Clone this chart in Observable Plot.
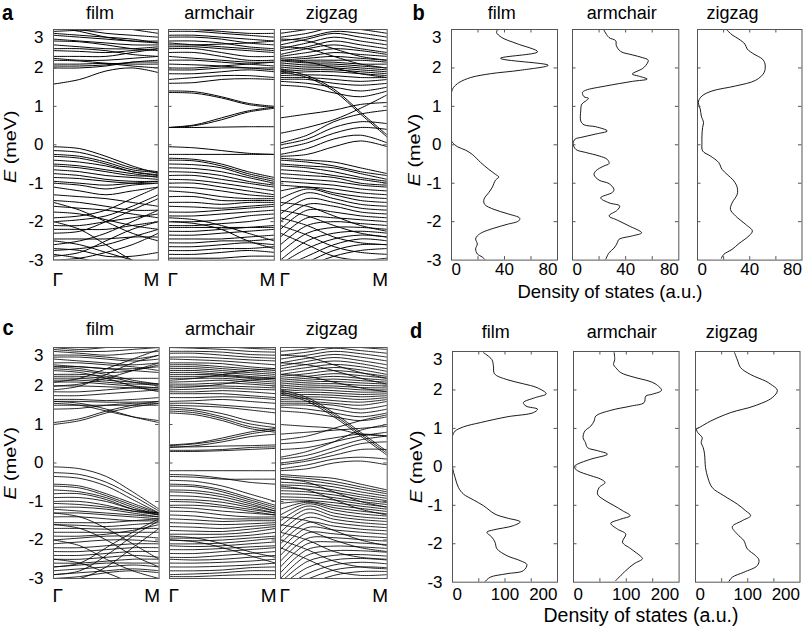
<!DOCTYPE html>
<html><head><meta charset="utf-8">
<script src="https://cdn.jsdelivr.net/npm/d3@7"></script>
<script src="https://cdn.jsdelivr.net/npm/@observablehq/plot@0.6"></script>
<style>
body{margin:0;background:#fff;}
#root{position:relative;width:805px;height:632px;overflow:hidden;background:#fff;font-family:"Liberation Sans",Arial,Helvetica,sans-serif;}
#root svg{overflow:visible;}
</style></head><body><div id="root"></div>
<script>
// ---------- data ----------
const kPoints = [0, 0.25, 0.5, 0.75, 1];
const kLabels = ["Γ", "M"];
const energyTicks = [-3, -2, -1, 0, 1, 2, 3];
const subNames = ["film", "armchair", "zigzag"];
const panelLetters = ["a", "b", "c", "d"];
const dosTicksB = [0, 20, 40, 60, 80];
const dosLabelsB = [0, 40, 80];
const dosTicksD = [0, 50, 100, 150, 200];
const dosLabelsD = [0, 100, 200];
const yAxisTitle = ["E", " (meV)"];
const xAxisTitle = "Density of states (a.u.)";

// band energies (meV) at kPoints, panel a
const bandsAFilm = [
[1.58,1.7,1.92,2.0,1.88],[2.05,2.05,2.08,2.15,2.15],[2.1,2.1,2.12,2.1,2.1],[2.2,2.18,2.12,2.05,2.0],
[2.3,2.3,2.3,2.4,2.5],[2.45,2.43,2.4,2.45,2.5],[2.5,2.5,2.45,2.35,2.3],[2.6,2.55,2.5,2.5,2.55],
[2.7,2.68,2.6,2.5,2.45],[2.75,2.7,2.65,2.6,2.6],[2.85,2.8,2.75,2.7,2.7],[2.9,2.85,2.8,2.75,2.65],
[3.05,2.95,2.8,2.7,2.65],[3.1,3.0,2.9,2.85,2.8],[3.0,3.05,3.1,3.0,2.9],[2.95,2.98,3.0,3.05,3.1],
[2.25,2.2,2.2,2.25,2.3],[2.0,2.0,2.05,2.15,2.2],
[-0.05,-0.1,-0.3,-0.55,-0.75],[-0.15,-0.2,-0.38,-0.6,-0.7],[-0.25,-0.3,-0.45,-0.65,-0.72],
[-0.3,-0.35,-0.5,-0.7,-0.8],[-0.4,-0.45,-0.55,-0.7,-0.78],[-0.5,-0.55,-0.65,-0.75,-0.85],
[-0.55,-0.6,-0.7,-0.8,-0.82],[-0.65,-0.7,-0.8,-0.85,-0.9],[-0.75,-0.8,-0.9,-0.95,-0.95],
[-0.85,-0.88,-0.95,-1.0,-1.0],[-0.95,-1.0,-1.05,-1.0,-0.95],[-1.0,-1.05,-1.15,-1.05,-1.0],
[-1.1,-1.2,-1.3,-1.2,-1.1],[-1.3,-1.35,-1.4,-1.5,-1.6],[-1.45,-1.5,-1.6,-1.7,-1.7],
[-1.6,-1.65,-1.7,-1.8,-1.9],[-1.9,-1.85,-1.7,-1.4,-1.1],[-2.0,-1.95,-1.85,-1.6,-1.3],
[-2.1,-2.1,-2.0,-1.9,-1.8],[-2.2,-2.2,-2.2,-2.1,-2.0],[-2.3,-2.25,-2.0,-1.7,-1.4],
[-2.45,-2.45,-2.45,-2.4,-2.4],[-2.6,-2.5,-2.3,-2.0,-1.7],[-2.75,-2.7,-2.6,-2.4,-2.2],
[-2.9,-2.8,-2.5,-2.2,-2.0],[-3.0,-2.95,-2.8,-2.6,-2.3],[-2.5,-2.6,-2.8,-3.0,-3.2],
[-2.0,-2.2,-2.6,-3.0,-3.3],[-1.5,-1.7,-2.0,-2.3,-2.5],[-2.7,-2.75,-2.9,-2.9,-2.8],
[-1.75,-1.8,-1.95,-2.1,-2.2],[-2.85,-2.95,-3.1,-3.2,-3.3]
];
const bandsAArm = [
[1.4,1.38,1.25,1.08,1.0],[1.36,1.34,1.22,1.05,0.97],[0.45,0.5,0.65,0.85,0.95],[0.45,0.52,0.7,0.88,0.98],
[0.45,0.45,0.46,0.47,0.47],[1.6,1.62,1.7,1.72,1.7],[1.7,1.75,1.8,1.8,1.75],[1.85,1.85,1.9,1.95,1.9],
[1.95,1.95,2.0,2.0,2.0],[2.1,2.08,2.05,2.0,1.95],[2.2,2.2,2.15,2.1,2.05],[2.3,2.25,2.2,2.15,2.15],
[2.4,2.4,2.3,2.2,2.2],[2.5,2.5,2.4,2.3,2.3],[2.55,2.55,2.5,2.45,2.4],[2.65,2.6,2.55,2.5,2.45],
[2.7,2.7,2.65,2.55,2.5],[2.8,2.8,2.75,2.65,2.6],[2.85,2.85,2.8,2.75,2.7],[2.95,2.95,2.9,2.85,2.8],
[3.05,3.0,2.95,2.9,2.9],[2.0,2.0,2.05,2.1,2.15],[2.6,2.6,2.62,2.65,2.7],
[-0.05,-0.08,-0.15,-0.22,-0.25],[-0.25,-0.25,-0.25,-0.25,-0.25],[-0.35,-0.38,-0.5,-0.7,-0.85],
[-0.4,-0.42,-0.55,-0.75,-0.9],[-0.5,-0.52,-0.6,-0.8,-0.95],[-0.6,-0.62,-0.7,-0.85,-1.0],
[-0.7,-0.72,-0.8,-0.95,-1.05],[-0.8,-0.8,-0.9,-1.0,-1.1],[-0.9,-0.92,-1.0,-1.1,-1.2],
[-1.0,-1.0,-1.1,-1.2,-1.3],[-1.1,-1.12,-1.2,-1.3,-1.35],[-1.2,-1.25,-1.35,-1.4,-1.4],
[-1.35,-1.35,-1.45,-1.45,-1.45],[-1.5,-1.5,-1.55,-1.5,-1.5],[-1.6,-1.62,-1.65,-1.6,-1.55],
[-1.75,-1.75,-1.7,-1.65,-1.6],[-1.85,-1.85,-1.8,-1.75,-1.7],[-2.0,-2.0,-1.95,-1.85,-1.8],
[-2.1,-2.1,-2.05,-2.0,-1.9],[-2.15,-2.15,-2.15,-2.15,-2.15],[-2.25,-2.25,-2.2,-2.15,-2.1],
[-2.35,-2.35,-2.3,-2.25,-2.2],[-2.45,-2.45,-2.45,-2.4,-2.35],[-2.55,-2.55,-2.5,-2.5,-2.45],
[-2.65,-2.65,-2.6,-2.55,-2.6],[-2.75,-2.75,-2.7,-2.7,-2.65],[-2.85,-2.85,-2.8,-2.75,-2.8],
[-2.95,-2.95,-2.95,-2.9,-2.9],[-1.9,-1.95,-2.1,-2.3,-2.5],[-2.0,-2.05,-2.2,-2.5,-2.7]
];
const bandsAZig = [
[1.55,1.5,1.35,1.25,1.4],[1.65,1.6,1.5,1.4,1.5],[1.7,1.7,1.6,1.55,1.6],[1.75,1.75,1.7,1.65,1.7],
[1.8,1.82,1.8,1.75,1.75],[1.85,1.9,1.9,1.85,1.8],[1.9,1.95,1.95,1.9,1.85],[1.95,2.0,2.0,1.95,1.9],
[2.0,2.05,2.05,2.0,1.95],[2.05,2.1,2.1,2.05,2.0],[2.1,2.15,2.15,2.1,2.1],[2.15,2.2,2.2,2.2,2.15],
[2.2,2.25,2.3,2.25,2.2],[2.25,2.3,2.4,2.35,2.3],[2.3,2.4,2.5,2.45,2.35],[2.35,2.5,2.6,2.5,2.4],
[2.45,2.55,2.7,2.6,2.5],[2.5,2.65,2.8,2.7,2.6],[2.6,2.75,2.9,2.8,2.7],[2.7,2.8,2.95,2.9,2.8],
[2.8,2.9,3.05,3.0,2.9],[2.9,3.0,3.1,3.05,3.0],[3.0,3.05,3.15,3.1,3.05],[2.55,2.5,2.3,2.1,2.0],
[2.75,2.7,2.5,2.3,2.2],[2.2,2.15,2.0,1.85,1.75],
[1.9,1.75,1.4,0.8,0.2],[1.95,1.8,1.45,0.85,0.25],[0.05,0.25,0.6,0.8,0.9],[0.0,0.15,0.45,0.6,0.55],
[-0.1,0.05,0.3,0.45,0.4],[0.3,0.45,0.65,0.95,1.3],[0.7,0.8,0.9,1.05,1.1],[-0.25,-0.1,0.15,0.25,0.05],
[-0.3,-0.25,-0.05,0.1,-0.05],
[-0.35,-0.4,-0.45,-0.6,-0.75],[-0.4,-0.45,-0.55,-0.7,-0.8],[-0.5,-0.55,-0.6,-0.75,-0.9],
[-0.55,-0.6,-0.7,-0.85,-0.95],[-0.65,-0.7,-0.8,-0.9,-1.0],[-0.75,-0.8,-0.85,-1.0,-1.05],
[-0.85,-0.9,-0.95,-1.05,-1.1],[-0.95,-1.0,-1.05,-1.15,-1.2],[-1.05,-1.1,-1.15,-1.25,-1.3],
[-1.2,-1.1,-1.25,-1.35,-1.4],[-1.4,-1.15,-1.3,-1.45,-1.5],[-1.6,-1.25,-1.4,-1.55,-1.6],
[-1.8,-1.4,-1.5,-1.65,-1.7],[-2.0,-1.55,-1.6,-1.75,-1.8],[-2.2,-1.7,-1.75,-1.85,-1.9],
[-2.4,-1.9,-1.9,-1.95,-2.0],[-2.6,-2.1,-2.0,-2.05,-2.1],[-2.8,-2.3,-2.15,-2.15,-2.2],
[-3.0,-2.5,-2.3,-2.25,-2.3],[-3.1,-2.7,-2.45,-2.35,-2.4],[-3.2,-2.9,-2.6,-2.45,-2.5],
[-3.3,-3.05,-2.75,-2.6,-2.6],[-3.3,-3.15,-2.9,-2.75,-2.7],[-1.5,-1.6,-1.85,-2.1,-2.25],
[-1.7,-1.85,-2.1,-2.3,-2.4],[-1.9,-2.1,-2.4,-2.55,-2.6],[-2.1,-2.35,-2.65,-2.8,-2.85],
[-2.3,-2.6,-2.9,-3.0,-2.95]
];
// panel c
const bandsCFilm = [
[1.0,1.1,1.3,1.45,1.55],[1.05,1.15,1.35,1.5,1.6],[1.6,1.55,1.4,1.2,1.05],[1.55,1.5,1.35,1.2,1.1],
[1.5,1.5,1.5,1.5,1.5],[1.6,1.6,1.58,1.58,1.6],[1.65,1.65,1.62,1.65,1.7],[1.4,1.42,1.5,1.55,1.55],
[1.75,1.75,1.8,1.85,1.9],[1.85,1.85,1.9,1.95,1.95],[2.0,2.0,1.98,1.95,1.9],[2.1,2.1,2.05,2.0,1.95],
[2.15,2.15,2.1,2.05,2.05],[2.2,2.2,2.15,2.1,2.05],[2.25,2.25,2.2,2.2,2.2],[2.3,2.3,2.25,2.1,2.0],
[2.4,2.35,2.2,2.0,1.85],[2.45,2.4,2.3,2.15,2.05],[2.5,2.5,2.45,2.4,2.35],[2.55,2.5,2.45,2.45,2.5],
[2.6,2.6,2.55,2.5,2.4],[2.7,2.65,2.6,2.55,2.6],[2.75,2.75,2.7,2.65,2.7],[2.8,2.8,2.75,2.7,2.8],
[2.9,2.85,2.8,2.85,2.9],[2.95,2.9,2.9,2.95,3.0],[3.0,2.95,3.0,3.05,3.0],[2.0,2.05,2.2,2.4,2.6],
[1.9,2.0,2.3,2.6,2.8],[2.1,2.2,2.45,2.7,2.95],[2.5,2.45,2.35,2.4,2.55],
[-0.1,-0.15,-0.35,-0.75,-1.2],[-0.25,-0.3,-0.5,-0.85,-1.25],[-0.35,-0.4,-0.6,-0.95,-1.3],
[-0.55,-0.6,-0.8,-1.05,-1.3],[-0.6,-0.65,-0.85,-1.1,-1.32],[-0.7,-0.75,-0.9,-1.15,-1.35],
[-0.8,-0.8,-0.95,-1.2,-1.35],[-0.9,-0.9,-1.0,-1.2,-1.3],[-1.0,-1.0,-1.1,-1.25,-1.35],
[-1.05,-1.08,-1.15,-1.25,-1.3],[-1.15,-1.15,-1.2,-1.3,-1.4],[-1.2,-1.25,-1.3,-1.35,-1.4],
[-1.3,-1.3,-1.35,-1.4,-1.45],[-1.4,-1.4,-1.45,-1.5,-1.5],[-1.55,-1.55,-1.55,-1.5,-1.45],
[-1.6,-1.62,-1.65,-1.6,-1.55],[-1.7,-1.7,-1.72,-1.7,-1.7],[-1.8,-1.8,-1.8,-1.8,-1.8],
[-1.9,-1.9,-1.85,-1.75,-1.6],[-2.0,-1.95,-1.9,-1.9,-1.95],[-2.1,-2.05,-2.0,-2.0,-2.05],
[-2.2,-2.2,-2.15,-2.1,-2.1],[-2.3,-2.3,-2.25,-2.2,-2.2],[-2.4,-2.4,-2.35,-2.3,-2.3],
[-2.5,-2.5,-2.45,-2.4,-2.45],[-2.6,-2.6,-2.55,-2.5,-2.5],[-2.7,-2.65,-2.6,-2.6,-2.6],
[-2.8,-2.75,-2.7,-2.65,-2.7],[-2.9,-2.85,-2.8,-2.75,-2.8],[-3.0,-2.95,-2.85,-2.8,-2.85],
[-2.9,-2.8,-2.4,-1.9,-1.5],[-2.7,-2.6,-2.2,-1.8,-1.45],[-3.1,-3.0,-2.7,-2.2,-1.7],
[-1.3,-1.4,-1.7,-2.1,-2.5],[-1.6,-1.7,-2.0,-2.4,-2.7],[-2.0,-2.15,-2.5,-2.8,-3.0],
[-2.5,-2.6,-2.85,-3.1,-3.2]
];
const bandsCArm = [
[1.5,1.48,1.45,1.38,1.3],[1.55,1.55,1.5,1.45,1.4],[1.6,1.62,1.65,1.6,1.55],[1.7,1.7,1.72,1.7,1.65],
[1.8,1.8,1.8,1.75,1.7],[1.85,1.85,1.88,1.85,1.8],[1.9,1.92,1.95,1.92,1.9],[2.0,2.0,2.0,1.98,1.95],
[2.05,2.05,2.08,2.05,2.0],[2.1,2.12,2.15,2.1,2.05],[2.2,2.2,2.2,2.15,2.1],[2.25,2.25,2.25,2.2,2.15],
[2.3,2.3,2.28,2.22,2.2],[2.35,2.35,2.3,2.25,2.2],[2.4,2.4,2.35,2.3,2.25],[2.45,2.45,2.4,2.35,2.3],
[2.5,2.5,2.45,2.4,2.35],[2.55,2.55,2.5,2.45,2.4],[2.6,2.6,2.58,2.5,2.45],[2.7,2.68,2.65,2.6,2.55],
[2.75,2.75,2.72,2.68,2.65],[2.85,2.85,2.8,2.75,2.72],[2.9,2.9,2.88,2.82,2.8],[3.0,2.98,2.95,2.9,2.88],
[3.05,3.05,3.02,2.98,2.95],[1.95,1.98,2.05,2.15,2.2],[2.15,2.2,2.3,2.4,2.45],
[1.3,1.25,1.1,0.9,0.8],[1.35,1.3,1.15,0.95,0.85],[1.4,1.35,1.2,1.02,0.92],[1.45,1.4,1.28,1.1,1.0],
[0.45,0.5,0.6,0.75,0.85],[0.47,0.52,0.65,0.8,0.9],[0.4,0.45,0.55,0.68,0.75],[0.3,0.3,0.32,0.35,0.38],
[0.33,0.33,0.35,0.4,0.42],[0.42,0.42,0.44,0.45,0.47],[-0.2,-0.2,-0.2,-0.2,-0.2],
[-0.3,-0.32,-0.4,-0.5,-0.55],[-0.35,-0.37,-0.42,-0.42,-0.42],[-0.45,-0.48,-0.6,-0.8,-1.0],
[-0.55,-0.58,-0.7,-0.9,-1.1],[-0.6,-0.62,-0.75,-0.95,-1.15],[-0.7,-0.72,-0.82,-1.0,-1.2],
[-0.75,-0.78,-0.88,-1.05,-1.25],[-0.85,-0.87,-0.95,-1.1,-1.25],[-0.95,-0.96,-1.02,-1.15,-1.3],
[-1.0,-1.02,-1.1,-1.2,-1.3],[-1.1,-1.1,-1.15,-1.25,-1.35],[-1.15,-1.18,-1.25,-1.3,-1.35],
[-1.25,-1.27,-1.35,-1.4,-1.4],[-1.35,-1.38,-1.45,-1.45,-1.45],[-1.45,-1.48,-1.52,-1.5,-1.5],
[-1.55,-1.57,-1.6,-1.58,-1.55],[-1.65,-1.67,-1.7,-1.65,-1.6],[-1.75,-1.77,-1.78,-1.72,-1.65],
[-1.85,-1.85,-1.85,-1.8,-1.7],[-1.95,-1.95,-1.92,-1.88,-1.8],[-2.0,-2.02,-2.0,-1.95,-1.9],
[-2.1,-2.1,-2.08,-2.02,-1.95],[-2.15,-2.17,-2.15,-2.1,-2.05],[-2.25,-2.25,-2.22,-2.18,-2.15],
[-2.35,-2.35,-2.3,-2.25,-2.2],[-2.45,-2.45,-2.4,-2.35,-2.3],[-2.5,-2.52,-2.5,-2.45,-2.4],
[-2.6,-2.6,-2.58,-2.55,-2.5],[-2.7,-2.7,-2.68,-2.65,-2.6],[-2.8,-2.8,-2.78,-2.72,-2.7],
[-2.9,-2.88,-2.85,-2.8,-2.8],[-2.95,-2.95,-2.92,-2.9,-2.9],[-1.9,-1.95,-2.1,-2.3,-2.45],
[-2.0,-2.05,-2.2,-2.4,-2.6]
];
const bandsCZig = [
[1.35,1.3,1.2,1.1,1.2],[1.45,1.4,1.3,1.2,1.3],[1.5,1.5,1.4,1.3,1.4],[1.55,1.55,1.5,1.4,1.5],
[1.6,1.6,1.55,1.5,1.6],[1.65,1.67,1.62,1.58,1.65],[1.7,1.72,1.7,1.65,1.7],[1.75,1.78,1.76,1.72,1.75],
[1.8,1.84,1.82,1.78,1.8],[1.85,1.9,1.88,1.84,1.85],[1.9,1.95,1.95,1.9,1.9],[1.95,2.0,2.0,1.96,1.95],
[2.0,2.05,2.06,2.02,2.0],[2.05,2.1,2.12,2.08,2.05],[2.1,2.15,2.18,2.14,2.1],[2.15,2.2,2.25,2.2,2.15],
[2.2,2.25,2.32,2.27,2.2],[2.25,2.32,2.4,2.34,2.25],[2.3,2.4,2.48,2.42,2.3],[2.38,2.48,2.56,2.5,2.38],
[2.45,2.56,2.65,2.58,2.45],[2.52,2.64,2.74,2.66,2.55],[2.6,2.72,2.82,2.75,2.65],[2.7,2.8,2.9,2.84,2.75],
[2.8,2.88,2.98,2.92,2.85],[2.9,2.96,3.05,3.0,2.95],[3.0,3.05,3.12,3.08,3.05],[2.6,2.55,2.4,2.2,2.05],
[2.8,2.75,2.55,2.35,2.2],[2.3,2.25,2.1,1.95,1.85],
[1.8,1.6,1.2,0.7,0.2],[1.85,1.65,1.25,0.75,0.25],[1.9,1.7,1.3,0.8,0.3],[0.5,0.55,0.65,0.75,0.7],
[0.35,0.4,0.55,0.7,0.8],[0.1,0.2,0.4,0.6,0.7],[0.0,0.1,0.3,0.5,0.55],[-0.05,0.05,0.2,0.35,0.35],
[0.15,0.3,0.55,0.85,1.0],[0.75,0.8,0.85,0.9,0.95],[1.0,0.95,0.9,0.75,0.7],[-0.15,-0.05,0.1,0.15,0.1],
[0.6,0.7,0.9,1.1,1.25],[-0.2,-0.15,0.0,0.05,-0.05],
[-0.3,-0.35,-0.4,-0.55,-0.7],[-0.35,-0.4,-0.48,-0.62,-0.75],[-0.42,-0.46,-0.55,-0.68,-0.8],
[-0.5,-0.54,-0.62,-0.75,-0.86],[-0.57,-0.6,-0.7,-0.82,-0.92],[-0.65,-0.68,-0.76,-0.88,-0.98],
[-0.72,-0.75,-0.83,-0.94,-1.03],[-0.8,-0.82,-0.9,-1.0,-1.08],[-0.88,-0.9,-0.96,-1.06,-1.14],
[-0.95,-0.97,-1.03,-1.12,-1.2],[-1.05,-1.0,-1.1,-1.18,-1.26],[-1.2,-1.02,-1.16,-1.25,-1.32],
[-1.35,-1.06,-1.22,-1.32,-1.38],[-1.5,-1.12,-1.3,-1.4,-1.45],[-1.65,-1.2,-1.38,-1.47,-1.52],
[-1.8,-1.3,-1.46,-1.55,-1.6],[-1.95,-1.42,-1.55,-1.63,-1.68],[-2.1,-1.55,-1.64,-1.72,-1.76],
[-2.25,-1.68,-1.74,-1.8,-1.85],[-2.4,-1.82,-1.84,-1.9,-1.94],[-2.55,-1.96,-1.94,-1.99,-2.03],
[-2.7,-2.1,-2.05,-2.08,-2.12],[-2.85,-2.25,-2.16,-2.18,-2.22],[-3.0,-2.4,-2.28,-2.28,-2.32],
[-3.1,-2.56,-2.4,-2.38,-2.42],[-3.2,-2.72,-2.52,-2.48,-2.52],[-3.3,-2.88,-2.65,-2.58,-2.62],
[-3.3,-3.02,-2.78,-2.7,-2.72],[-3.35,-3.15,-2.92,-2.82,-2.82],[-1.4,-1.5,-1.75,-2.0,-2.15],
[-1.6,-1.75,-2.0,-2.2,-2.3],[-1.8,-2.0,-2.3,-2.45,-2.5],[-2.0,-2.25,-2.55,-2.7,-2.75],
[-2.2,-2.5,-2.8,-2.92,-2.9],[-0.6,-0.7,-0.95,-1.2,-1.35],[-0.4,-0.5,-0.75,-1.0,-1.15]
];

// density of states: [E (meV), DOS (a.u.)]
const dosBFilm = [[2.98,34.5],[2.92,34],[2.79,38],[2.63,49.5],[2.42,65],[2.25,37],[2.07,73],[1.94,52],[1.85,29.5],[1.75,14.5],[1.62,5.7],[1.49,1.5],[1.36,0],[0.1,0],[0.06,0.75],[-0.05,4.5],[-0.14,10.7],[-0.25,15.7],[-0.46,22],[-0.64,28.2],[-0.77,33.2],[-0.84,35.7],[-0.92,33.2],[-1.11,30.7],[-1.24,28.2],[-1.42,24.5],[-1.55,25],[-1.68,32],[-1.79,42],[-1.91,51.5],[-1.98,50.7],[-2.07,42],[-2.17,32],[-2.28,23.2],[-2.37,19.5],[-2.45,18.2],[-2.58,19.5],[-2.71,18.2],[-2.84,19.5],[-2.92,23.2],[-3.0,25.7]];
const dosBArm = [[2.98,23.7],[2.79,27.5],[2.71,32.5],[2.58,33],[2.43,36.2],[2.34,45],[2.27,52.5],[2.2,57],[2.01,53.7],[1.84,45],[1.79,49.5],[1.71,56.2],[1.65,45],[1.53,25],[1.42,10],[1.36,7.5],[1.25,8.7],[1.21,12],[1.14,10],[1.06,7],[0.88,6.2],[0.62,6.2],[0.52,8.7],[0.47,17.5],[0.36,26.2],[0.28,17.5],[0.19,6.2],[0.15,2],[0.03,0.5],[-0.12,2.5],[-0.2,10],[-0.29,20],[-0.38,26.2],[-0.49,27.5],[-0.55,23.7],[-0.68,17.5],[-0.78,16.2],[-0.92,20],[-1.01,27.5],[-1.16,31.2],[-1.24,30],[-1.38,21.2],[-1.51,27.5],[-1.59,35.5],[-1.7,33.7],[-1.85,27.5],[-1.96,33.7],[-2.11,42.5],[-2.29,52],[-2.37,45],[-2.46,35],[-2.55,33.7],[-2.69,31.2],[-2.81,27.5],[-2.98,25]];
const dosBZig = [[2.98,22.7],[2.86,26.5],[2.75,31.7],[2.62,36.3],[2.49,38.1],[2.36,43.2],[2.23,49.7],[2.1,51.7],[1.88,51],[1.68,44.6],[1.53,29.1],[1.4,11.1],[1.27,3.4],[1.14,0.8],[1.06,0.8],[0.93,2.1],[0.75,2.9],[0.58,4.6],[0.45,3.9],[0.23,3.4],[0.06,3.4],[-0.16,3.9],[-0.29,9.8],[-0.46,16.2],[-0.64,18.8],[-0.77,22.7],[-0.94,27.8],[-1.11,30.4],[-1.29,30.4],[-1.51,26.5],[-1.68,25.2],[-1.85,29.1],[-2.07,36.8],[-2.24,42],[-2.37,39.4],[-2.57,31.7],[-2.72,26.5],[-2.85,20.1],[-2.95,18.3]];
const dosDFilm = [[2.97,59],[2.79,75],[2.62,78],[2.42,80],[2.27,103.6],[2.16,135],[2.06,161],[1.9,178.5],[1.8,157.5],[1.67,135],[1.58,140],[1.5,162],[1.41,154],[1.3,103.6],[1.15,52.8],[1.04,21],[0.93,5],[0.8,0],[0.0,0],[-0.28,5],[-0.54,11.4],[-0.71,21],[-0.86,40],[-1.01,59],[-1.23,81],[-1.33,103.6],[-1.43,129],[-1.53,116],[-1.64,78],[-1.7,65.5],[-1.83,75],[-1.96,81],[-2.13,84.6],[-2.31,103.6],[-2.44,129],[-2.54,141.7],[-2.7,135],[-2.78,103.6],[-2.87,71.8],[-2.98,62.3]];
const dosDArm = [[2.97,77],[2.79,78],[2.66,75.8],[2.58,80],[2.45,89.6],[2.33,114.8],[2.23,143],[2.15,156],[1.99,166.7],[1.89,149.6],[1.84,137],[1.67,133.7],[1.58,108.5],[1.47,70.6],[1.32,42.2],[1.19,39],[1.06,32.8],[0.93,21.4],[0.76,18.2],[0.63,22.7],[0.5,26.5],[0.42,45.5],[0.33,64.4],[0.2,32.8],[0.07,7.6],[0,1.1],[-0.1,7.6],[-0.23,32.8],[-0.32,51.7],[-0.41,59.8],[-0.54,48.5],[-0.71,45.5],[-0.86,58],[-1.01,77],[-1.14,92.8],[-1.27,107.2],[-1.36,89.6],[-1.47,70.6],[-1.62,83.3],[-1.75,99],[-1.96,92.8],[-2.13,108.5],[-2.33,127.5],[-2.39,130.7],[-2.52,114.8],[-2.7,99],[-2.96,80]];
const dosDZig = [[2.97,74.8],[2.75,81],[2.58,86.3],[2.4,105.5],[2.23,134.2],[2.15,143.8],[1.99,156.7],[1.8,147],[1.58,111.8],[1.41,67.1],[1.19,28.8],[1.04,9.6],[0.98,1.9],[0.89,4.4],[0.76,12.8],[0.63,10.9],[0.5,14.8],[0.33,17.3],[-0.02,19.2],[-0.28,23.6],[-0.54,32],[-0.75,54.3],[-0.97,80],[-1.14,95.9],[-1.27,105.5],[-1.4,89.5],[-1.56,70.4],[-1.75,80],[-1.92,92.6],[-2.13,99.1],[-2.31,115],[-2.42,121.4],[-2.57,118.3],[-2.74,92.6],[-2.87,70.4],[-2.98,63.9]];

// ---------- layout (pixels) ----------
const FONT = '"Liberation Sans", Arial, Helvetica, sans-serif';
const frameColor = "#555";
const rows = {
  a: {top: 28.7, bottom: 259.3, frames: [[52.7,157.5],[167.7,273.5],[280,386.7]], labelDy: 12, lineWidth: 1},
  c: {top: 347.3, bottom: 578.3, frames: [[52.7,158.3],[169,275],[280,386.7]], labelDy: 10, lineWidth: 0.85},
  b: {top: 28.7, bottom: 259.3, frames: [[450.7,556.7],[572,678.3],[697,801.5]], labelDy: 3},
  d: {top: 351, bottom: 581.7, frames: [[452.3,557.3],[572.7,678.3],[695,799.5]], labelDy: 6}
};
const M = {t: 10, r: 10, b: 40, l: 50};
const root = document.getElementById("root");

function place(svg, left, top) {
  svg.style.position = "absolute";
  svg.style.left = (left - M.l) + "px";
  svg.style.top = (top - M.t) + "px";
  svg.style.maxWidth = "none";
  svg.style.background = "transparent";
  root.appendChild(svg);
}

function yLabelMarks(show) {
  if (!show) return [];
  return [
    Plot.text(energyTicks.filter(d => d < 3), {y: d => d, text: d => String(d), frameAnchor: "left", textAnchor: "end", dx: -10, fontSize: 17}),
    Plot.text([3], {y: d => d, text: d => String(d), frameAnchor: "left", textAnchor: "end", lineAnchor: "top", dx: -10, dy: 1, fontSize: 17})
  ];
}

function bandPlot(bands, row, i) {
  const fr = row.frames[i], w = fr[1] - fr[0], h = row.bottom - row.top;
  const data = bands.flatMap((b, j) => b.map((E, n) => ({k: kPoints[n], E, band: j})));
  const inner = energyTicks.slice(1, -1);
  const svg = Plot.plot({
    width: w + M.l + M.r, height: h + M.t + M.b,
    marginTop: M.t, marginRight: M.r, marginBottom: M.b, marginLeft: M.l,
    x: {domain: [kPoints[0], kPoints[kPoints.length - 1]], axis: null},
    y: {domain: [-3, 3], axis: null},
    style: {fontFamily: FONT, fontSize: "17px", color: "#000", overflow: "visible"},
    marks: [
      Plot.line(data, {x: "k", y: "E", z: "band", curve: "catmull-rom", clip: true, stroke: "#000", strokeWidth: row.lineWidth}),
      Plot.tickY(inner, {y: d => d, insetRight: w - 3.5, stroke: frameColor}),
      Plot.tickY(inner, {y: d => d, insetLeft: w - 3.5, stroke: frameColor}),
      Plot.frame({stroke: frameColor, strokeWidth: 1}),
      Plot.text([kPoints[0]], {x: d => d, text: () => kLabels[0], frameAnchor: "bottom", textAnchor: "start", lineAnchor: "top", dy: row.labelDy, dx: -1, fontSize: 19}),
      Plot.text([kPoints[kPoints.length - 1]], {x: d => d, text: () => kLabels[1], frameAnchor: "bottom", textAnchor: "end", lineAnchor: "top", dy: row.labelDy, dx: 1, fontSize: 19}),
      ...yLabelMarks(i === 0)
    ]
  });
  place(svg, fr[0], row.top);
}

function dosPlot(dos, row, i, ticks, labels) {
  const fr = row.frames[i], w = fr[1] - fr[0], h = row.bottom - row.top;
  const data = dos.map(([E, v]) => ({E, v}));
  const inner = energyTicks.slice(1, -1);
  const innerX = ticks.slice(1, -1);
  const svg = Plot.plot({
    width: w + M.l + M.r, height: h + M.t + M.b,
    marginTop: M.t, marginRight: M.r, marginBottom: M.b, marginLeft: M.l,
    x: {domain: [ticks[0], ticks[ticks.length - 1]], axis: null},
    y: {domain: [-3, 3], axis: null},
    style: {fontFamily: FONT, fontSize: "17px", color: "#000", overflow: "visible"},
    marks: [
      Plot.line(data, {x: "v", y: "E", curve: "catmull-rom", clip: true, stroke: "#000", strokeWidth: 0.9}),
      Plot.tickY(inner, {y: d => d, insetRight: w - 3.5, stroke: frameColor}),
      Plot.tickY(inner, {y: d => d, insetLeft: w - 3.5, stroke: frameColor}),
      Plot.tickX(innerX, {x: d => d, insetBottom: h - 3.5, stroke: frameColor}),
      Plot.tickX(innerX, {x: d => d, insetTop: h - 3.5, stroke: frameColor}),
      Plot.frame({stroke: frameColor, strokeWidth: 1}),
      Plot.text(labels.slice(0, 1), {x: d => d, text: d => String(d), frameAnchor: "bottom", textAnchor: "start", lineAnchor: "top", dy: row.labelDy, fontSize: 17}),
      Plot.text(labels.slice(1, -1), {x: d => d, text: d => String(d), frameAnchor: "bottom", textAnchor: "middle", lineAnchor: "top", dy: row.labelDy, fontSize: 17}),
      Plot.text(labels.slice(-1), {x: d => d, text: d => String(d), frameAnchor: "bottom", textAnchor: "end", lineAnchor: "top", dy: row.labelDy, fontSize: 17}),
      ...yLabelMarks(i === 0)
    ]
  });
  place(svg, fr[0], row.top);
}

[bandsAFilm, bandsAArm, bandsAZig].forEach((b, i) => bandPlot(b, rows.a, i));
[bandsCFilm, bandsCArm, bandsCZig].forEach((b, i) => bandPlot(b, rows.c, i));
[dosBFilm, dosBArm, dosBZig].forEach((d, i) => dosPlot(d, rows.b, i, dosTicksB, dosLabelsB));
[dosDFilm, dosDArm, dosDZig].forEach((d, i) => dosPlot(d, rows.d, i, dosTicksD, dosLabelsD));

// ---------- overlay text ----------
const titlePos = {
  a: {y: 19, x: [100, 219.2, 331.7]},
  b: {y: 19, x: [501.7, 621.7, 732.5]},
  c: {y: 335, x: [100, 220, 331.7]},
  d: {y: 338, x: [495.8, 621.7, 731.7]}
};
const letterPos = {a: [2, 20], b: [412.5, 19.5], c: [2.5, 335], d: [410, 338]};
const yTitlePos = {a: [16, 146.7], b: [420, 150], c: [16, 463.3], d: [422, 466.7]};
const xTitlePos = {b: [610, 298], d: [641, 622]};

const ov = d3.create("svg").attr("width", 805).attr("height", 632)
  .style("position", "absolute").style("left", "0px").style("top", "0px")
  .style("pointer-events", "none").style("font-family", FONT);

["a", "b", "c", "d"].forEach((key, idx) => {
  const tp = titlePos[key];
  subNames.forEach((name, i) => {
    ov.append("text").attr("x", tp.x[i]).attr("y", tp.y).attr("text-anchor", "middle")
      .attr("font-size", 18).text(name);
  });
  const [lx, ly] = letterPos[key];
  ov.append("text").attr("transform", `translate(${lx},${ly}) scale(1,1.1)`)
    .attr("font-size", 20).attr("font-weight", "bold").text(panelLetters[idx]);
  const [yx, yy] = yTitlePos[key];
  const t = ov.append("text").attr("transform", `translate(${yx},${yy}) rotate(-90) scale(1.2,1)`)
    .attr("text-anchor", "middle").attr("font-size", 16.5);
  t.append("tspan").attr("font-style", "italic").text(yAxisTitle[0]);
  t.append("tspan").text(yAxisTitle[1]);
});
for (const key of ["b", "d"]) {
  const [x, y] = xTitlePos[key];
  ov.append("text").attr("x", x).attr("y", y).attr("text-anchor", "middle")
    .attr("font-size", key === "b" ? 18.5 : 19.5).text(xAxisTitle);
}
root.appendChild(ov.node());
</script>
</body></html>
